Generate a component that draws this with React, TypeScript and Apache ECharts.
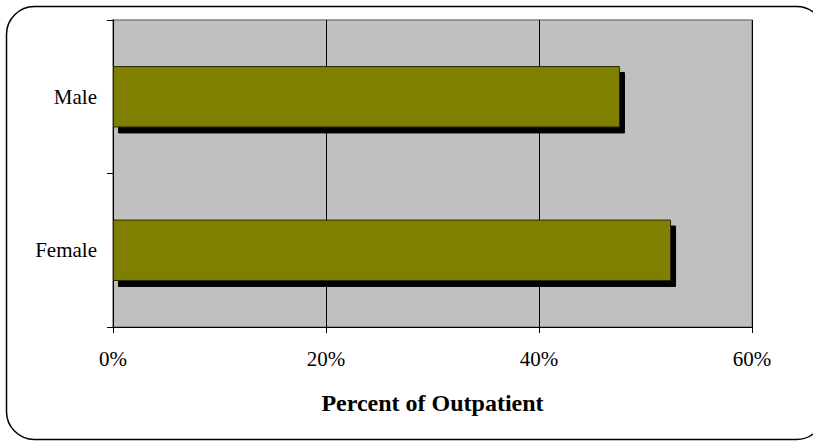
import React, { useEffect, useRef } from "react";
import * as echarts from "echarts";

const categories = ["Female", "Male"];
const values = [52.4, 47.6];
const xTicks = [0, 20, 40, 60];
const axisTitle = "Percent of Outpatient";

const SERIF = "'Times New Roman', 'Liberation Serif', 'DejaVu Serif', serif";

export default function App() {
  const ref = useRef<HTMLDivElement>(null);
  useEffect(() => {
    if (!ref.current) return;
    const chart = echarts.init(ref.current, null, { renderer: "svg" });
    chart.setOption({
      animation: false,
      backgroundColor: "#ffffff",
      graphic: [
        {
          type: "rect",
          shape: { x: 6.5, y: 6.5, width: 818, height: 433, r: 28 },
          style: { fill: "none", stroke: "#000", lineWidth: 1.5 },
          silent: true,
          z: 100,
        },
      ],
      grid: {
        left: 113,
        right: 61,
        top: 20,
        bottom: 115,
        show: true,
        backgroundColor: "#C0C0C0",
        borderColor: "#808080",
        borderWidth: 1.5,
      },
      xAxis: {
        type: "value",
        min: xTicks[0],
        max: xTicks[xTicks.length - 1],
        interval: 20,
        name: axisTitle,
        nameLocation: "middle",
        nameGap: 64,
        nameTextStyle: {
          fontFamily: SERIF,
          fontWeight: "bold",
          fontSize: 24,
          color: "#000",
        },
        axisLine: { show: true, lineStyle: { color: "#000", width: 1 } },
        axisTick: { show: true, inside: false, length: 6, lineStyle: { color: "#000" } },
        axisLabel: {
          formatter: (v: number) => v + "%",
          fontFamily: SERIF,
          fontSize: 21,
          color: "#000",
          margin: 21,
        },
        splitLine: { show: true, lineStyle: { color: "#000", width: 1 } },
      },
      yAxis: {
        type: "category",
        data: categories,
        axisLine: { show: true, lineStyle: { color: "#000", width: 1 } },
        axisTick: { show: true, inside: false, length: 6, lineStyle: { color: "#000" } },
        axisLabel: {
          fontFamily: SERIF,
          fontSize: 21,
          color: "#000",
          margin: 16,
        },
        splitLine: { show: false },
      },
      series: [
        {
          type: "bar",
          data: values,
          barWidth: "40%",
          itemStyle: {
            color: "#808000",
            borderColor: "#2a2a00",
            borderWidth: 1,
            shadowColor: "#000",
            shadowBlur: 0,
            shadowOffsetX: 5,
            shadowOffsetY: 6,
          },
        },
      ],
    });
    return () => chart.dispose();
  }, []);
  return (
    <div
      ref={ref}
      style={{ position: "fixed", left: 0, top: 0, width: 813, height: 442 }}
    />
  );
}
